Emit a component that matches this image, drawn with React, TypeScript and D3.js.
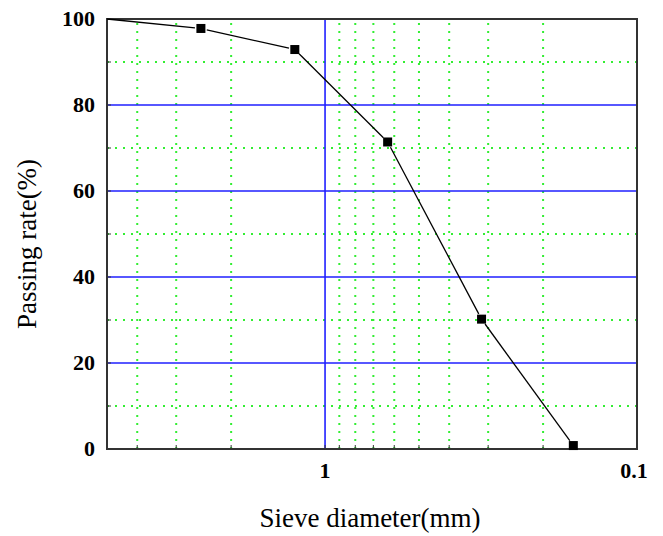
import React from 'react';
import * as d3 from 'd3';

// sieve sizes (mm) and cumulative passing rate (%)
const sieveSizes = [5, 2.5, 1.25, 0.63, 0.315, 0.16];
const passingRates = [100, 97.8, 92.9, 71.4, 30.2, 0.8];

const yTicks = [0, 20, 40, 60, 80, 100];
const yMinor = [10, 30, 50, 70, 90];
const xTicks = [1, 0.1];
const xMinor = [4, 3, 2, 0.9, 0.8, 0.7, 0.6, 0.5, 0.4, 0.3, 0.2];

const W = 663;
const H = 536;
const margin = { top: 19, right: 26, bottom: 87, left: 107 };

const App = () => {
  const x = d3.scaleLog().domain([5, 0.1]).range([margin.left, W - margin.right]);
  const y = d3.scaleLinear().domain([0, 100]).range([H - margin.bottom, margin.top]);
  const [x0, x1] = x.range();
  const [y0, y1] = y.range();

  const pts = sieveSizes.map((d, i) => [x(d), y(passingRates[i])]);
  const gap = 6;
  // segments trimmed a little so they don't touch the markers
  const segs = pts.slice(1).map((p, i) => {
    const a = pts[i];
    const dx = p[0] - a[0];
    const dy = p[1] - a[1];
    const len = Math.hypot(dx, dy);
    const ux = dx / len;
    const uy = dy / len;
    const s = i === 0 ? 0 : gap;
    return [a[0] + ux * s, a[1] + uy * s, p[0] - ux * gap, p[1] - uy * gap];
  });

  const serif = '"Liberation Serif", "Times New Roman", serif';
  const green = '#33ee33';
  const blue = '#1f1fff';

  return (
    <svg width={W} height={H} style={{ position: 'absolute', left: 0, top: 0, background: '#fff' }}>
      {/* minor dotted grid */}
      {yMinor.map(v => (
        <line key={'ym' + v} x1={x0} x2={x1} y1={y(v)} y2={y(v)} stroke={green} strokeWidth={2} strokeDasharray="2,6" />
      ))}
      {xMinor.map(v => (
        <line key={'xm' + v} x1={x(v)} x2={x(v)} y1={y0} y2={y1} stroke={green} strokeWidth={2} strokeDasharray="2,6" />
      ))}
      {/* major grid */}
      {yTicks.filter(v => v > 0 && v < 100).map(v => (
        <line key={'yg' + v} x1={x0} x2={x1} y1={y(v)} y2={y(v)} stroke={blue} strokeWidth={1.6} />
      ))}
      <line x1={x(1)} x2={x(1)} y1={y0} y2={y1} stroke={blue} strokeWidth={1.6} />

      {/* small ticks */}
      {[...yTicks, ...yMinor].map(v => (
        <line key={'yt' + v} x1={x0} x2={x0 + 4} y1={y(v)} y2={y(v)} stroke="#333" strokeWidth={1} />
      ))}
      {[...xMinor, 1].map(v => (
        <line key={'xt' + v} x1={x(v)} x2={x(v)} y1={y0} y2={y0 - 4} stroke="#333" strokeWidth={1} />
      ))}

      {/* frame */}
      <rect x={x0} y={y1} width={x1 - x0} height={y0 - y1} fill="none" stroke="#333" strokeWidth={2} />

      {/* data line */}
      {segs.map((s, i) => (
        <line key={'s' + i} x1={s[0]} y1={s[1]} x2={s[2]} y2={s[3]} stroke="#000" strokeWidth={1.3} />
      ))}
      {pts.slice(1).map((p, i) => (
        <rect key={'m' + i} x={p[0] - 4.5} y={p[1] - 4.5} width={9} height={9} fill="#000" />
      ))}

      {/* tick labels */}
      {yTicks.map(v => (
        <text key={'yl' + v} x={x0 - 12} y={y(v) + 7} textAnchor="end" fontFamily={serif} fontWeight="bold" fontSize={22}>
          {v}
        </text>
      ))}
      {xTicks.map(v => (
        <text key={'xl' + v} x={x(v) - (v === 0.1 ? 3 : 0)} y={y0 + 29} textAnchor="middle" fontFamily={serif} fontWeight="bold" fontSize={22}>
          {v}
        </text>
      ))}

      {/* axis titles */}
      <text x={370} y={527} textAnchor="middle" fontFamily={serif} fontSize={27}>
        Sieve diameter(mm)
      </text>
      <text transform={`translate(36, 244) rotate(-90)`} textAnchor="middle" fontFamily={serif} fontSize={27}>
        Passing rate(%)
      </text>
    </svg>
  );
};

export default App;
